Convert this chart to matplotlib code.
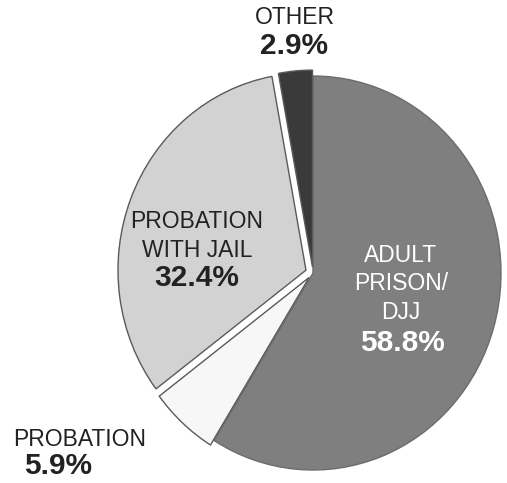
import matplotlib
matplotlib.use("Agg")
import matplotlib.pyplot as plt

categories = ["ADULT\nPRISON/\nDJJ", "PROBATION", "PROBATION\nWITH JAIL", "OTHER"]
values = [58.8, 5.9, 32.4, 2.9]
pct_labels = ["58.8%", "5.9%", "32.4%", "2.9%"]
colors = ["#7f7f7f", "#f7f7f7", "#d2d2d2", "#3a3a3a"]
explode = [0.0, 0.03, 0.04, 0.03]

W, H = 507, 483
fig = plt.figure(figsize=(W / 100, H / 100), dpi=100)
ax = fig.add_axes([0, 0, 1, 1])
plt.rcParams['font.family'] = ['Liberation Sans', 'DejaVu Sans']

wedges, _ = ax.pie(values, colors=colors, startangle=90, counterclock=False,
                   explode=explode,
                   wedgeprops=dict(edgecolor="#5a5a5a", linewidth=1.0))
wedges[0].set_edgecolor("#6c6c6c")
# elliptical pie: map data units to pixels
cx, cy, rx, ry = 313, 273, 188, 197
ax.set_aspect('auto')
ax.set_xlim(-cx / rx, (W - cx) / rx)
ax.set_ylim(-(H - cy) / ry, cy / ry)
ax.axis('off')

def px(x, y):
    return x / W, 1 - y / H

fs_n, fs_b = 16.5, 21.5
# Adult prison
fig.text(*px(401, 284), categories[0], ha='center', va='center', fontsize=fs_n,
         color='white', linespacing=1.3)
fig.text(*px(402, 343), pct_labels[0], ha='center', va='center', fontsize=fs_b,
         color='white', fontweight='bold')
# Probation with jail
fig.text(*px(197, 236), categories[2], ha='center', va='center', fontsize=fs_n,
         color='#222222', linespacing=1.3)
fig.text(*px(197, 278), pct_labels[2], ha='center', va='center', fontsize=fs_b,
         color='#222222', fontweight='bold')
# Other
fig.text(*px(295, 18), categories[3], ha='center', va='center', fontsize=fs_n,
         color='#222222')
fig.text(*px(294, 46), pct_labels[3], ha='center', va='center', fontsize=fs_b,
         color='#222222', fontweight='bold')
# Probation
fig.text(*px(80, 439), categories[1], ha='center', va='center', fontsize=fs_n,
         color='#222222')
fig.text(*px(58, 466), pct_labels[1], ha='center', va='center', fontsize=fs_b,
         color='#222222', fontweight='bold')

fig.savefig("out.png", dpi=100)
